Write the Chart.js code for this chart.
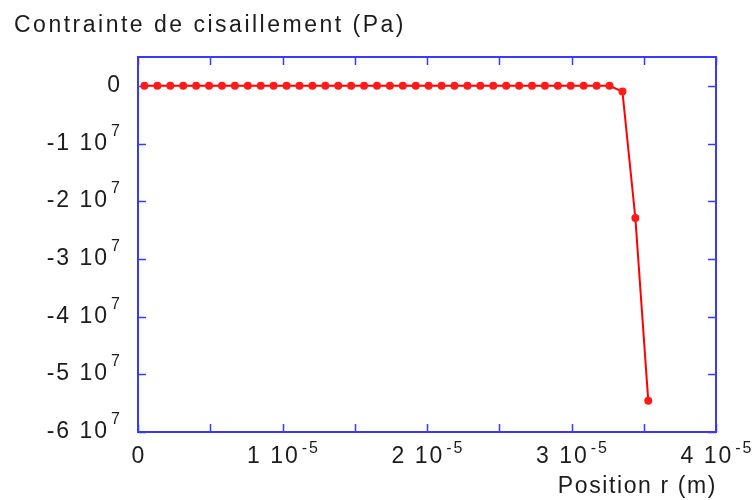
<!DOCTYPE html>
<html>
<head>
<meta charset="utf-8">
<script src="https://cdn.jsdelivr.net/npm/chart.js@4/dist/chart.umd.min.js"></script>
<style>
  html, body { margin: 0; padding: 0; background: #ffffff; }
  #wrap { position: relative; width: 752px; height: 500px; }
</style>
</head>
<body>
<div id="wrap"><canvas id="chart"></canvas></div>
<script>
// Radial position of each sample (m)
const positions = [
  0.447e-6, 1.341e-6, 2.235e-6, 3.129e-6, 4.023e-6, 4.917e-6, 5.811e-6, 6.705e-6,
  7.599e-6, 8.493e-6, 9.387e-6, 10.281e-6, 11.175e-6, 12.069e-6, 12.963e-6, 13.857e-6,
  14.751e-6, 15.645e-6, 16.539e-6, 17.433e-6, 18.327e-6, 19.221e-6, 20.115e-6, 21.009e-6,
  21.903e-6, 22.797e-6, 23.691e-6, 24.585e-6, 25.479e-6, 26.373e-6, 27.267e-6, 28.161e-6,
  29.055e-6, 29.949e-6, 30.843e-6, 31.737e-6, 32.631e-6, 33.525e-6, 34.419e-6, 35.313e-6
];
// Shear stress at each position (Pa)
const shearStress = [
  0, 0, 0, 0, 0, 0, 0, 0,
  0, 0, 0, 0, 0, 0, 0, 0,
  0, 0, 0, 0, 0, 0, 0, 0,
  0, 0, 0, 0, 0, 0, 0, 0,
  0, 0, 0, 0, 0, -1.0e6, -2.29e7, -5.46e7
];
// Axis ticks and their labels ("^" marks an exponent)
const xTicks = [0, 1e-5, 2e-5, 3e-5, 4e-5];
const xTickLabels = ['0', '1 10^-5', '2 10^-5', '3 10^-5', '4 10^-5'];
const xMinorTicks = [0.5e-5, 1.5e-5, 2.5e-5, 3.5e-5];
const yTicks = [0, -1e7, -2e7, -3e7, -4e7, -5e7, -6e7];
const yTickLabels = ['0', '-1 10^7', '-2 10^7', '-3 10^7', '-4 10^7', '-5 10^7', '-6 10^7'];
const yTitle = 'Contrainte de cisaillement (Pa)';
const xTitle = 'Position r (m)';

const FRAME = '#3838ff';
const TEXT = '#1c1c1c';
const FONT = '"Liberation Sans", Arial, sans-serif';

function splitLabel(s) {
  const i = s.indexOf('^');
  return i < 0 ? [s, ''] : [s.slice(0, i), s.slice(i + 1)];
}

// Width of a label with its superscript part
function labelWidth(ctx, s) {
  const [base, exp] = splitLabel(s);
  ctx.font = '23px ' + FONT;
  let w = ctx.measureText(base).width;
  if (exp) {
    ctx.font = '16px ' + FONT;
    w += 2 + ctx.measureText(exp).width;
  }
  return w;
}

function drawLabel(ctx, s, left, baseline, raise) {
  const [base, exp] = splitLabel(s);
  ctx.textAlign = 'left';
  ctx.textBaseline = 'alphabetic';
  ctx.font = '23px ' + FONT;
  ctx.fillText(base, left, baseline);
  if (exp) {
    const w = ctx.measureText(base).width;
    ctx.font = '16px ' + FONT;
    ctx.fillText(exp, left + w + 2, baseline - raise);
  }
}

const framePlugin = {
  id: 'frameAndLabels',
  beforeDatasetsDraw(chart) {
    const { ctx, chartArea: a, scales } = chart;
    const xs = scales.x, ys = scales.y;
    ctx.save();
    ctx.strokeStyle = FRAME;
    ctx.lineWidth = 2;
    ctx.strokeRect(a.left, a.top, a.right - a.left, a.bottom - a.top);
    ctx.lineWidth = 1.5;
    const tl = 8;
    ctx.beginPath();
    xTicks.concat(xMinorTicks).forEach(v => {
      const px = Math.round(xs.getPixelForValue(v)) + 0.5;
      ctx.moveTo(px, a.bottom); ctx.lineTo(px, a.bottom - tl);
      ctx.moveTo(px, a.top); ctx.lineTo(px, a.top + tl);
    });
    yTicks.forEach(v => {
      const py = Math.round(ys.getPixelForValue(v)) + 0.5;
      ctx.moveTo(a.left, py); ctx.lineTo(a.left + tl, py);
      ctx.moveTo(a.right, py); ctx.lineTo(a.right - tl, py);
    });
    ctx.stroke();
    ctx.restore();
  },
  afterDraw(chart) {
    const { ctx, chartArea: a, scales } = chart;
    const xs = scales.x, ys = scales.y;
    ctx.save();
    ctx.fillStyle = TEXT;
    ctx.letterSpacing = '2px';
    // y tick labels, right aligned
    yTicks.forEach((v, i) => {
      const s = yTickLabels[i];
      const w = labelWidth(ctx, s);
      const py = ys.getPixelForValue(v);
      drawLabel(ctx, s, 122 - w, py + 6, 14);
    });
    // x tick labels, centred under ticks
    xTicks.forEach((v, i) => {
      const s = xTickLabels[i];
      const w = labelWidth(ctx, s);
      const px = xs.getPixelForValue(v);
      drawLabel(ctx, s, px - w / 2 + 1, a.bottom + 31, 10);
    });
    // titles
    ctx.font = '23px ' + FONT;
    ctx.textBaseline = 'alphabetic';
    ctx.textAlign = 'left';
    ctx.letterSpacing = '2.5px';
    ctx.fillText(yTitle, 14, 32);
    ctx.letterSpacing = '1.6px';
    const tw = ctx.measureText(xTitle).width;
    ctx.fillText(xTitle, a.right - tw + 1, 493);
    ctx.restore();
  }
};

new Chart(document.getElementById('chart'), {
  type: 'line',
  data: {
    datasets: [{
      data: positions.map((r, i) => ({ x: r, y: shearStress[i] })),
      borderColor: '#ff0000',
      backgroundColor: '#ff0000',
      borderWidth: 2,
      pointRadius: 4,
      pointBorderWidth: 0,
      pointBackgroundColor: '#ff1a1a',
      tension: 0,
      clip: false
    }]
  },
  options: {
    responsive: true,
    maintainAspectRatio: false,
    animation: false,
    layout: { padding: { left: 138, top: 57, right: 36, bottom: 68 } },
    plugins: { legend: { display: false }, tooltip: { enabled: false }, title: { display: false } },
    scales: {
      x: { type: 'linear', min: 0, max: 4e-5, display: false },
      y: { type: 'linear', min: -6e7, max: 5e6, display: false }
    }
  },
  plugins: [framePlugin]
});
</script>
</body>
</html>
